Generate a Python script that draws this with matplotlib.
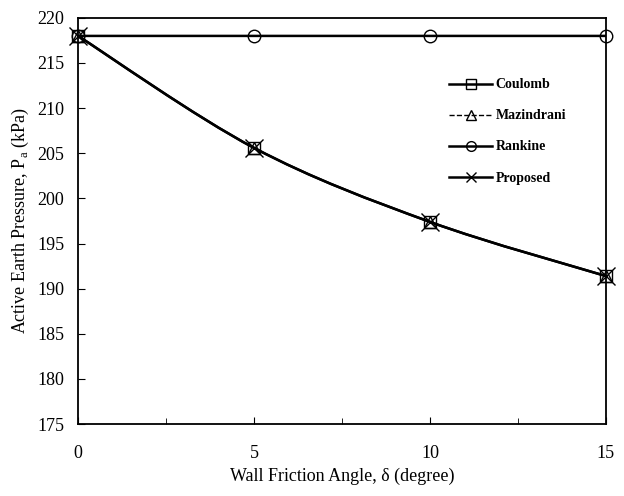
import numpy as np
import matplotlib
matplotlib.use("Agg")
import matplotlib.pyplot as plt
from matplotlib.path import Path
from matplotlib.patches import PathPatch
from matplotlib.ticker import MultipleLocator

################################################################################
# Data
################################################################################
delta       = [0, 5, 10, 15]
coulomb     = [218.0, 205.6, 197.4, 191.4]
mazindrani  = [218.0, 205.6, 197.4, 191.4]
rankine     = [218.0, 218.0, 218.0, 218.0]
proposed    = [218.0, 205.6, 197.4, 191.4]

plt.rcParams["font.family"] = ["Liberation Serif", "DejaVu Serif"]
plt.rcParams["font.size"] = 12


def smooth_path(x, y):
    # Catmull-Rom style bezier through the points (Excel "smoothed line")
    x = np.asarray(x, float)
    y = np.asarray(y, float)
    verts = [(x[0], y[0])]
    codes = [Path.MOVETO]
    n = len(x)
    for i in range(n - 1):
        i0 = max(i - 1, 0)
        i3 = min(i + 2, n - 1)
        c1 = (x[i] + (x[i + 1] - x[i0]) / 6, y[i] + (y[i + 1] - y[i0]) / 6)
        c2 = (x[i + 1] - (x[i3] - x[i]) / 6, y[i + 1] - (y[i3] - y[i]) / 6)
        verts += [c1, c2, (x[i + 1], y[i + 1])]
        codes += [Path.CURVE4] * 3
    return Path(verts, codes)


fig = plt.figure(figsize=(6.24, 4.96), dpi=100)
ax = fig.add_axes([0.125, 0.145, 0.846, 0.819])

series = [
    ("Coulomb", coulomb, "-", "s", 9),
    ("Mazindrani", mazindrani, "--", "^", 8),
    ("Rankine", rankine, "-", "o", 9),
    ("Proposed", proposed, "-", "x", 13),
]
for name, vals, ls, mk, ms in series:
    ax.add_patch(PathPatch(smooth_path(delta, vals), fill=False,
                           lw=1.8 if ls == "-" else 1.0, ls=ls, color="black",
                           clip_on=False))
    ax.plot(delta, vals, ls="none", marker=mk, ms=ms, mfc="none",
            mec="black", mew=1.0, clip_on=False)
    ax.plot([], [], ls=ls, lw=1.8 if ls == "-" else 1.0, color="black",
            marker=mk, ms=7, mfc="none", mec="black", mew=1.0, label=name)

ax.set_xlim(0, 15)
ax.set_ylim(175, 220)
ax.xaxis.set_major_locator(MultipleLocator(5))
ax.xaxis.set_minor_locator(MultipleLocator(2.5))
ax.yaxis.set_major_locator(MultipleLocator(5))
ax.tick_params(which="both", direction="in", labelsize=13, pad=10)
ax.tick_params(axis="x", which="major", pad=15)
ax.tick_params(which="major", length=5)
ax.tick_params(which="minor", length=4)
for sp in ax.spines.values():
    sp.set_linewidth(1.3)

ax.set_xlabel("Wall Friction Angle, δ (degree)", fontsize=13, labelpad=4)
ax.set_ylabel("Active Earth Pressure, P$_\\mathregular{a}$ (kPa)", fontsize=13)

leg = fig.legend(loc="upper left", bbox_to_anchor=(0.7196, 0.842),
                 frameon=False, borderpad=0, borderaxespad=0,
                 handlelength=3.1, labelspacing=1.3, handletextpad=0.25,
                 prop={"weight": "bold", "size": 10})

fig.savefig("out.png", dpi=100)
